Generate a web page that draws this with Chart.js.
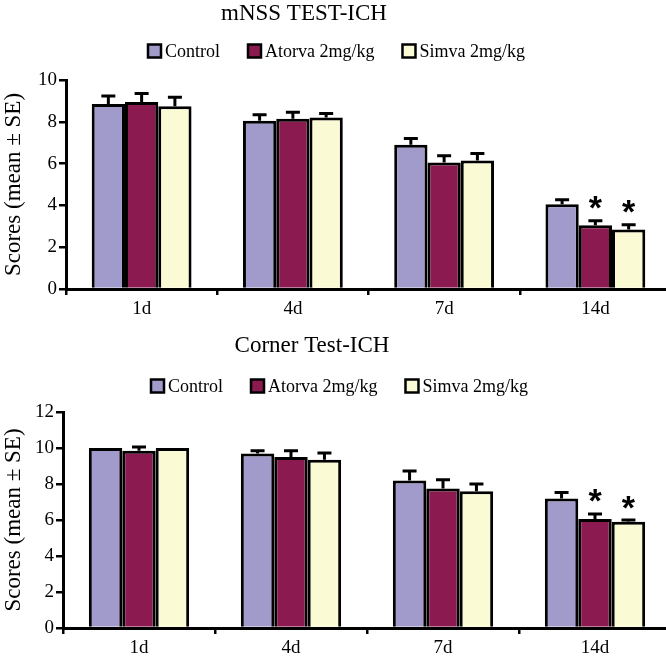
<!DOCTYPE html>
<html>
<head>
<meta charset="utf-8">
<script src="https://cdn.jsdelivr.net/npm/chart.js@4.4.1/dist/chart.umd.min.js"></script>
<style>
  html, body { margin: 0; padding: 0; background: #fff; overflow: hidden; }
  .box { position: absolute; left: 0; width: 676px; height: 331px; }
</style>
</head>
<body>
<div class="box" style="top:0"><canvas id="mnssChart" width="676" height="331"></canvas></div>
<div class="box" style="top:331px"><canvas id="cornerChart" width="676" height="331"></canvas></div>
<script>
// time points and group names
const days = ['1d', '4d', '7d', '14d'];
const groups = ['Control', 'Atorva 2mg/kg', 'Simva 2mg/kg'];

// mNSS test - means and standard errors
const mnssControl = [8.85, 8.05, 6.9, 4.05];
const mnssAtorva = [8.95, 8.15, 6.05, 3.05];
const mnssSimva = [8.75, 8.2, 6.15, 2.85];
const mnssControlSE = [0.38, 0.29, 0.3, 0.22];
const mnssAtorvaSE = [0.41, 0.31, 0.33, 0.21];
const mnssSimvaSE = [0.43, 0.2, 0.33, 0.22];

// corner test - means and standard errors
const cornerControl = [10, 9.7, 8.2, 7.2];
const cornerAtorva = [9.85, 9.5, 7.75, 6.05];
const cornerSimva = [10, 9.35, 7.6, 5.9];
const cornerControlSE = [0, 0.15, 0.52, 0.33];
const cornerAtorvaSE = [0.2, 0.35, 0.48, 0.29];
const cornerSimvaSE = [0, 0.37, 0.4, 0.1];

// significance marks (*) : [day, group]
const mnssStars = [['14d', 1], ['14d', 2]];
const cornerStars = [['14d', 1], ['14d', 2]];

const colors = ['#a19bcc', '#8a1a50', '#fafad4'];
const serif = '"Liberation Serif", "Times New Roman", serif';

// draws the one-sided SE bars and the asterisks
const errorBars = {
  id: 'errorBars',
  afterDatasetsDraw(chart) {
    const ctx = chart.ctx;
    const y = chart.scales.y;
    const o = chart.options.plugins.errorBars;
    ctx.save();
    ctx.strokeStyle = '#000';
    ctx.lineWidth = 3;
    chart.data.datasets.forEach((ds, di) => {
      chart.getDatasetMeta(di).data.forEach((bar, i) => {
        const se = ds.se[i];
        if (!se) return;
        const top = y.getPixelForValue(ds.data[i]);
        const cap = y.getPixelForValue(ds.data[i] + se);
        ctx.beginPath();
        ctx.moveTo(bar.x, top);
        ctx.lineTo(bar.x, cap);
        ctx.moveTo(bar.x - 7, cap);
        ctx.lineTo(bar.x + 7, cap);
        ctx.stroke();
      });
    });
    ctx.fillStyle = '#000';
    ctx.font = 'bold 34px "Liberation Sans", Arial, sans-serif';
    ctx.textAlign = 'center';
    ctx.textBaseline = 'alphabetic';
    const m = ctx.measureText('*');
    const mid = (m.actualBoundingBoxAscent - m.actualBoundingBoxDescent) / 2;
    o.stars.forEach(([day, g]) => {
      const i = chart.data.labels.indexOf(day);
      const ds = chart.data.datasets[g];
      const bar = chart.getDatasetMeta(g).data[i];
      const cap = y.getPixelForValue(ds.data[i] + ds.se[i]);
      ctx.fillText('*', bar.x, cap - o.starGap + mid);
    });
    ctx.restore();
  }
};

// title and boxed legend drawn at fixed spots above the plot
const header = {
  id: 'header',
  afterDraw(chart) {
    const ctx = chart.ctx;
    const o = chart.options.plugins.header;
    ctx.save();
    ctx.fillStyle = '#000';
    ctx.font = '23px ' + serif;
    ctx.textAlign = 'center';
    ctx.textBaseline = 'alphabetic';
    ctx.fillText(o.title, o.titleX, o.titleY);

    ctx.font = '18px ' + serif;
    ctx.textBaseline = 'middle';
    ctx.textAlign = 'left';
    let x = o.legendX;
    chart.data.datasets.forEach(ds => {
      ctx.fillStyle = ds.backgroundColor;
      ctx.fillRect(x, o.legendY - 6.5, 13, 13);
      ctx.strokeStyle = '#000';
      ctx.lineWidth = 2.5;
      ctx.strokeRect(x, o.legendY - 6.5, 13, 13);
      ctx.fillStyle = '#000';
      ctx.fillText(ds.label, x + 17, o.legendY + 1);
      x += 17 + ctx.measureText(ds.label).width + 28;
    });
    ctx.restore();
  }
};

function makeChart(id, title, series, ses, stars, yMax, lay) {
  return new Chart(document.getElementById(id), {
    type: 'bar',
    data: {
      labels: days,
      datasets: groups.map((g, k) => ({
        label: g,
        data: series[k],
        se: ses[k],
        backgroundColor: colors[k],
        borderColor: '#000',
        borderWidth: 3,
        borderSkipped: 'start',
        categoryPercentage: 0.66,
        barPercentage: 1.0
      }))
    },
    options: {
      responsive: false,
      animation: false,
      devicePixelRatio: 1,
      layout: { padding: { left: 0, right: 5, top: lay.top, bottom: 0 } },
      plugins: {
        legend: { display: false },
        tooltip: { enabled: false },
        title: { display: false },
        header: { title: title, titleX: lay.titleX, titleY: lay.titleY, legendX: lay.legendX, legendY: lay.legendY },
        errorBars: { stars: stars, starGap: 18 }
      },
      scales: {
        x: {
          afterFit(s) { s.height = lay.xHeight; },
          border: { color: '#000', width: 3 },
          grid: { display: true, drawOnChartArea: false, drawTicks: true, tickLength: 6, color: '#000', lineWidth: 2.5, offset: true },
          ticks: { color: '#000', padding: 3, font: { family: serif, size: 19 } }
        },
        y: {
          min: 0,
          max: yMax,
          afterFit(s) { s.width = lay.yWidth; },
          border: { color: '#000', width: 3 },
          grid: { display: true, drawOnChartArea: false, drawTicks: true, tickLength: 7, color: '#000', lineWidth: 2.5 },
          ticks: { stepSize: 2, color: '#000', padding: 2, font: { family: serif, size: 19 } },
          title: {
            display: true,
            text: 'Scores (mean \u00b1 SE)',
            color: '#000',
            padding: 0,
            font: { family: serif, size: 23 }
          }
        }
      }
    },
    plugins: [errorBars, header]
  });
}

makeChart('mnssChart', 'mNSS TEST-ICH',
  [mnssControl, mnssAtorva, mnssSimva],
  [mnssControlSE, mnssAtorvaSE, mnssSimvaSE],
  mnssStars, 10,
  { top: 80, xHeight: 42, yWidth: 66, titleX: 304, titleY: 20, legendX: 148, legendY: 51 });

makeChart('cornerChart', 'Corner Test-ICH',
  [cornerControl, cornerAtorva, cornerSimva],
  [cornerControlSE, cornerAtorvaSE, cornerSimvaSE],
  cornerStars, 12,
  { top: 81, xHeight: 34, yWidth: 63, titleX: 312, titleY: 21, legendX: 151, legendY: 55 });
</script>
</body>
</html>
